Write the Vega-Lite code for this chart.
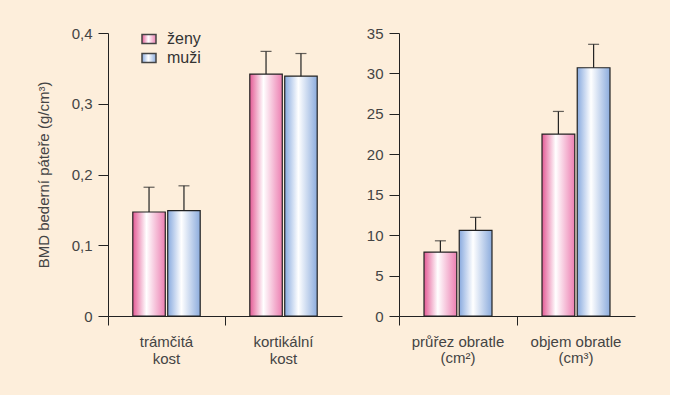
{
  "$schema": "https://vega.github.io/schema/vega-lite/v6.json",
  "background": "#fdeedb",
  "padding": {"left": 36, "top": 26, "right": 35, "bottom": 31},
  "datasets": {
    "left": [
      {"category": "trámčitá kost", "sex": "ženy", "value": 0.147, "upper": 0.182},
      {"category": "trámčitá kost", "sex": "muži", "value": 0.149, "upper": 0.184},
      {"category": "kortikální kost", "sex": "ženy", "value": 0.342, "upper": 0.374},
      {"category": "kortikální kost", "sex": "muži", "value": 0.339, "upper": 0.371}
    ],
    "right": [
      {"category": "průřez obratle (cm²)", "sex": "ženy", "value": 7.9, "upper": 9.3},
      {"category": "průřez obratle (cm²)", "sex": "muži", "value": 10.6, "upper": 12.2},
      {"category": "objem obratle (cm³)", "sex": "ženy", "value": 22.5, "upper": 25.3},
      {"category": "objem obratle (cm³)", "sex": "muži", "value": 30.7, "upper": 33.6}
    ]
  },
  "config": {
    "view": {"stroke": null},
    "font": "Liberation Sans",
    "axis": {
      "domainColor": "#222", "tickColor": "#222", "labelColor": "#444", "titleColor": "#444",
      "labelFontSize": 15, "titleFontSize": 15, "titleFontWeight": "normal", "grid": false,
      "domainWidth": 1, "tickWidth": 1, "labelFont": "Liberation Sans", "titleFont": "Liberation Sans"
    },
    "legend": {
      "title": null, "orient": "none", "symbolSize": 196, "symbolOpacity": 1,
      "labelFontSize": 16, "labelColor": "#333", "labelFont": "Liberation Sans", "labelOffset": 10,
      "padding": 0, "offset": 0
    }
  },
  "spacing": 24,
  "resolve": {
    "scale": {"x": "independent", "y": "independent", "xOffset": "independent"}
  },
  "hconcat": [
    {
      "width": 234, "height": 283,
      "data": {"name": "left"},
      "encoding": {
        "x": {"field": "category", "type": "nominal", "sort": ["trámčitá kost", "kortikální kost"],
          "scale": {"paddingInner": 0, "paddingOuter": 0},
          "axis": {"title": null, "labelAngle": 0, "bandPosition": 0, "tickSize": 9,
            "labelPadding": 9, "labelLineHeight": 17, "labelExpr": "split(datum.label, ' ')"}},
        "xOffset": {"field": "sex", "type": "nominal", "sort": ["ženy", "muži"],
          "scale": {"domain": ["ženy", "muži"], "paddingInner": 0.07, "paddingOuter": 0.71}},
        "y": {"field": "value", "type": "quantitative", "title": "BMD bederní páteře (g/cm³)",
          "scale": {"domain": [0, 0.4], "nice": false},
          "axis": {"values": [0, 0.1, 0.2, 0.3, 0.4], "labelExpr": "replace(format(datum.value, '~g'), '.', ',')",
            "tickSize": 10, "labelPadding": 6, "titlePadding": 20}}
      },
      "resolve": {"scale": {"shape": "independent"}, "legend": {"shape": "independent"}},
      "layer": [
        {
          "transform": [{"filter": "datum.sex === 'ženy'"}],
          "mark": {"type": "bar", "stroke": "#222", "strokeWidth": 1.2,
            "color": {"gradient": "linear", "x1": 0, "y1": 0, "x2": 1, "y2": 0,
              "stops": [{"offset": 0, "color": "#e45a95"}, {"offset": 0.42, "color": "#ffffff"}, {"offset": 1, "color": "#ec7fb1"}]}}
        },
        {
          "transform": [{"filter": "datum.sex === 'muži'"}],
          "mark": {"type": "bar", "stroke": "#222", "strokeWidth": 1.2,
            "color": {"gradient": "linear", "x1": 0, "y1": 0, "x2": 1, "y2": 0,
              "stops": [{"offset": 0, "color": "#88aadf"}, {"offset": 0.42, "color": "#ffffff"}, {"offset": 1, "color": "#8cacdd"}]}}
        },
        {
          "mark": {"type": "rule", "color": "#222", "strokeWidth": 1.2},
          "encoding": {"y2": {"field": "upper"}}
        },
        {
          "mark": {"type": "tick", "color": "#222", "thickness": 1.2, "size": 11},
          "encoding": {"y": {"field": "upper", "type": "quantitative", "title": "BMD bederní páteře (g/cm³)"}}
        },
        {
          "transform": [{"filter": "datum.sex === 'ženy'"}],
          "mark": {"type": "point", "filled": true, "opacity": 0, "stroke": "#444", "strokeWidth": 1,
            "fill": {"gradient": "linear", "x1": 0, "y1": 0, "x2": 1, "y2": 0,
              "stops": [{"offset": 0, "color": "#e45a95"}, {"offset": 0.45, "color": "#ffffff"}, {"offset": 1, "color": "#ec7fb1"}]}},
          "encoding": {
            "shape": {"field": "sex", "type": "nominal",
              "scale": {"domain": ["ženy"], "range": ["M-1,-0.64H1V0.64H-1Z"]},
              "legend": {"legendX": 33, "legendY": -2}}
          }
        },
        {
          "transform": [{"filter": "datum.sex === 'muži'"}],
          "mark": {"type": "point", "filled": true, "opacity": 0, "stroke": "#444", "strokeWidth": 1,
            "fill": {"gradient": "linear", "x1": 0, "y1": 0, "x2": 1, "y2": 0,
              "stops": [{"offset": 0, "color": "#88aadf"}, {"offset": 0.45, "color": "#ffffff"}, {"offset": 1, "color": "#8cacdd"}]}},
          "encoding": {
            "shape": {"field": "sex", "type": "nominal",
              "scale": {"domain": ["muži"], "range": ["M-1,-0.64H1V0.64H-1Z"]},
              "legend": {"legendX": 33, "legendY": 17}}
          }
        }
      ]
    },
    {
      "width": 236, "height": 283,
      "data": {"name": "right"},
      "encoding": {
        "x": {"field": "category", "type": "nominal", "sort": ["průřez obratle (cm²)", "objem obratle (cm³)"],
          "scale": {"paddingInner": 0, "paddingOuter": 0},
          "axis": {"title": null, "labelAngle": 0, "bandPosition": 0, "tickSize": 9,
            "labelPadding": 9, "labelLineHeight": 16, "labelExpr": "split(replace(datum.label, ' (', '|('), '|')"}},
        "xOffset": {"field": "sex", "type": "nominal", "sort": ["ženy", "muži"],
          "scale": {"domain": ["ženy", "muži"], "paddingInner": 0.07, "paddingOuter": 0.71}},
        "y": {"field": "value", "type": "quantitative", "title": null,
          "scale": {"domain": [0, 35], "nice": false},
          "axis": {"values": [0, 5, 10, 15, 20, 25, 30, 35], "tickSize": 10, "labelPadding": 6}}
      },
      "layer": [
        {
          "transform": [{"filter": "datum.sex === 'ženy'"}],
          "mark": {"type": "bar", "stroke": "#222", "strokeWidth": 1.2,
            "color": {"gradient": "linear", "x1": 0, "y1": 0, "x2": 1, "y2": 0,
              "stops": [{"offset": 0, "color": "#e45a95"}, {"offset": 0.42, "color": "#ffffff"}, {"offset": 1, "color": "#ec7fb1"}]}}
        },
        {
          "transform": [{"filter": "datum.sex === 'muži'"}],
          "mark": {"type": "bar", "stroke": "#222", "strokeWidth": 1.2,
            "color": {"gradient": "linear", "x1": 0, "y1": 0, "x2": 1, "y2": 0,
              "stops": [{"offset": 0, "color": "#88aadf"}, {"offset": 0.42, "color": "#ffffff"}, {"offset": 1, "color": "#8cacdd"}]}}
        },
        {
          "mark": {"type": "rule", "color": "#222", "strokeWidth": 1.2},
          "encoding": {"y2": {"field": "upper"}}
        },
        {
          "mark": {"type": "tick", "color": "#222", "thickness": 1.2, "size": 11},
          "encoding": {"y": {"field": "upper", "type": "quantitative", "title": null}}
        }
      ]
    }
  ]
}
